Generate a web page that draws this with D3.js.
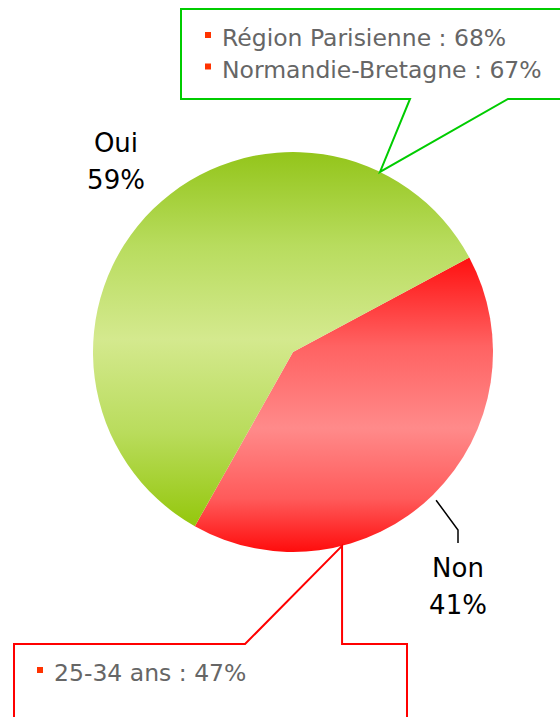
<!DOCTYPE html>
<html>
<head>
<meta charset="utf-8">
<script src="https://cdn.jsdelivr.net/npm/d3@7"></script>
<style>
  html, body { margin: 0; padding: 0; background: #fff; }
  svg { display: block; font-family: 'DejaVu Sans', Verdana, sans-serif; }
</style>
</head>
<body>
<div id="chart"></div>
<script>
// answers and shares (%)
const answers = ['Non', 'Oui'];
const shares = [41, 59];
// callout notes
const ouiNotes = ['Région Parisienne : 68%', 'Normandie-Bretagne : 67%'];
const nonNotes = ['25-34 ans : 47%'];

function createPie(element) {
  const width = 560;
  const height = 717;
  const cx = 293;
  const cy = 352;
  const radius = 200;
  const deg = Math.PI / 180;

  const root = d3.select(element);
  root.html(null);

  const svg = root.append('svg')
    .attr('width', width)
    .attr('height', height)
    .attr('viewBox', `0 0 ${width} ${height}`);

  const defs = svg.append('defs');
  const gradients = {
    Oui: [[0, '#93c51a'], [0.25, '#b8dc5e'], [0.5, '#d4e98e'], [0.75, '#b9dc5c'], [1, '#94c70c']],
    Non: [[0, '#ff1010'], [0.3, '#ff6262'], [0.58, '#ff8a8a'], [0.82, '#ff5a5a'], [1, '#ff0c0c']],
  };
  Object.keys(gradients).forEach((key) => {
    defs.append('linearGradient')
      .attr('id', `grad-${key}`)
      .attr('x1', 0).attr('y1', 0).attr('x2', 0).attr('y2', 1)
      .selectAll('stop')
      .data(gradients[key])
      .enter()
      .append('stop')
      .attr('offset', d => d[0])
      .attr('stop-color', d => d[1]);
  });

  const data = answers.map((a, i) => ({ name: a, value: shares[i] }));

  const pie = d3.pie()
    .sort(null)
    .value(d => d.value)
    .startAngle(61.8 * deg)
    .endAngle(61.8 * deg + 2 * Math.PI);

  const arc = d3.arc().innerRadius(0).outerRadius(radius);
  const slices = pie(data);

  const g = svg.append('g').attr('transform', `translate(${cx},${cy})`);
  g.selectAll('path')
    .data(slices)
    .enter()
    .append('path')
    .attr('d', arc)
    .attr('fill', d => `url(#grad-${d.data.name})`);

  // point on the rim at a given angle (d3 convention: 0 = 12 o'clock)
  const rim = (a, r = radius) => [cx + r * Math.sin(a), cy - r * Math.cos(a)];

  // green callout for "Oui"
  const gTip = rim(25.8 * deg);
  svg.append('path')
    .attr('d', `M181,9 L620,9 L620,99 L508,99 L${gTip[0]},${gTip[1]} L410,99 L181,99 Z`)
    .attr('fill', '#fff')
    .attr('stroke', '#00cc00')
    .attr('stroke-width', 2);

  // red callout for "Non"
  const rTip = rim(165.8 * deg);
  svg.append('path')
    .attr('d', `M14,644 L${rTip[0] - 97},644 L${rTip[0]},${rTip[1]} L${rTip[0]},644 L407,644 L407,740 L14,740 Z`)
    .attr('fill', '#fff')
    .attr('stroke', '#ff0000')
    .attr('stroke-width', 2);

  function notes(list, x, y0, dy) {
    list.forEach((t, i) => {
      const y = y0 + i * dy;
      svg.append('rect')
        .attr('x', x - 17).attr('y', y - 14)
        .attr('width', 6).attr('height', 6)
        .attr('fill', '#ff3300');
      svg.append('text')
        .attr('x', x).attr('y', y)
        .attr('font-size', 23.5)
        .attr('fill', '#666')
        .text(t);
    });
  }
  notes(ouiNotes, 222, 46, 31.5);
  notes(nonNotes, 54, 681, 31.5);

  // Non leader line
  const lStart = rim(136 * deg, 206);
  svg.append('polyline')
    .attr('points', `${lStart[0]},${lStart[1]} 458,530 458,543`)
    .attr('fill', 'none')
    .attr('stroke', '#000')
    .attr('stroke-width', 1.5);

  // category labels
  const labels = [
    { name: answers[1], value: shares[1], x: 116, y: 152 },
    { name: answers[0], value: shares[0], x: 458, y: 577 },
  ];
  labels.forEach((l) => {
    const t = svg.append('text')
      .attr('text-anchor', 'middle')
      .attr('font-size', 26)
      .attr('fill', '#000');
    t.append('tspan').attr('x', l.x).attr('y', l.y).text(l.name);
    t.append('tspan').attr('x', l.x).attr('y', l.y + 36.5).text(`${l.value}%`);
  });
}

createPie(document.getElementById('chart'));
</script>
</body>
</html>
